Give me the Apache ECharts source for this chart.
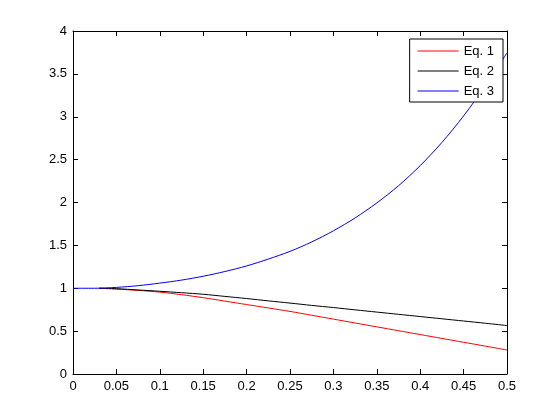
<!DOCTYPE html>
<html>
<head>
<meta charset="utf-8">
<script src="https://cdn.jsdelivr.net/npm/echarts@6/dist/echarts.min.js"></script>
<style>html,body{margin:0;padding:0;background:#fff}#c{width:560px;height:420px}</style>
</head>
<body>
<div id="c"></div>
<script>
// Data
const xEq3 = [0,0.025,0.05,0.075,0.1,0.125,0.15,0.175,0.2,0.225,0.25,0.275,0.3,0.325,0.35,0.375,0.4,0.425,0.45,0.475,0.5];
const yEq3 = [1.00,1.00,1.01,1.03,1.06,1.095,1.14,1.195,1.26,1.34,1.43,1.54,1.67,1.82,1.995,2.195,2.43,2.70,3.01,3.36,3.745];
const xEq12 = [0.03,0.05,0.075,0.1,0.125,0.15,0.175,0.2,0.225,0.25,0.275,0.3,0.325,0.35,0.375,0.4,0.425,0.45,0.475,0.5];
const yEq1 = [1.00,0.99,0.975,0.955,0.925,0.89,0.85,0.81,0.77,0.73,0.685,0.64,0.595,0.55,0.505,0.46,0.415,0.37,0.325,0.28];
const yEq2 = [1.00,0.995,0.98,0.965,0.948,0.93,0.905,0.88,0.853,0.827,0.80,0.775,0.748,0.722,0.696,0.67,0.644,0.618,0.592,0.565];
const seriesNames = ['Eq. 1','Eq. 2','Eq. 3'];

function pairs(xs, ys){ return xs.map((x,i)=>[x, ys[i]]); }

const font = {fontFamily:'Liberation Sans, Arial, sans-serif', fontSize:13, color:'#000'};
const axisCommon = {
  axisLine:{show:true, onZero:false, lineStyle:{color:'#000', width:1}},
  axisTick:{show:true, inside:true, length:5, lineStyle:{color:'#000', width:1}},
  splitLine:{show:false}
};
const chart = echarts.init(document.getElementById('c'));
chart.setOption({
  animation:false,
  backgroundColor:'#fff',
  grid:{left:73, right:53, top:31, bottom:46},
  legend:{
    orient:'vertical', right:57, top:39,
    data:seriesNames,
    icon:'rect',
    backgroundColor:'#fff', borderColor:'#000', borderWidth:1,
    padding:[5,9,4,8], itemGap:6, itemWidth:41, itemHeight:1,
    textStyle:Object.assign({}, font, {fontSize:13, lineHeight:14})
  },
  xAxis:[
    Object.assign({type:'value', min:0, max:0.5, interval:0.05, position:'bottom',
      axisLabel:Object.assign({margin:6}, font)}, axisCommon),
    Object.assign({type:'value', min:0, max:0.5, interval:0.05, position:'top',
      axisLabel:{show:false}}, axisCommon)
  ],
  yAxis:[
    Object.assign({type:'value', min:0, max:4, interval:0.5, position:'left',
      axisLabel:Object.assign({margin:6}, font)}, axisCommon),
    Object.assign({type:'value', min:0, max:4, interval:0.5, position:'right',
      axisLabel:{show:false}}, axisCommon)
  ],
  series:[
    {name:seriesNames[0], type:'line', data:pairs(xEq12,yEq1), symbol:'none', smooth:0.3,
      lineStyle:{color:'#ff0000', width:1}, itemStyle:{color:'#ff0000'}},
    {name:seriesNames[1], type:'line', data:pairs(xEq12,yEq2), symbol:'none', smooth:0.3,
      lineStyle:{color:'#000000', width:1}, itemStyle:{color:'#000000'}},
    {name:seriesNames[2], type:'line', data:pairs(xEq3,yEq3), symbol:'none', smooth:0.3,
      lineStyle:{color:'#0000ff', width:1}, itemStyle:{color:'#0000ff'}, z:3}
  ]
});
</script>
</body>
</html>
